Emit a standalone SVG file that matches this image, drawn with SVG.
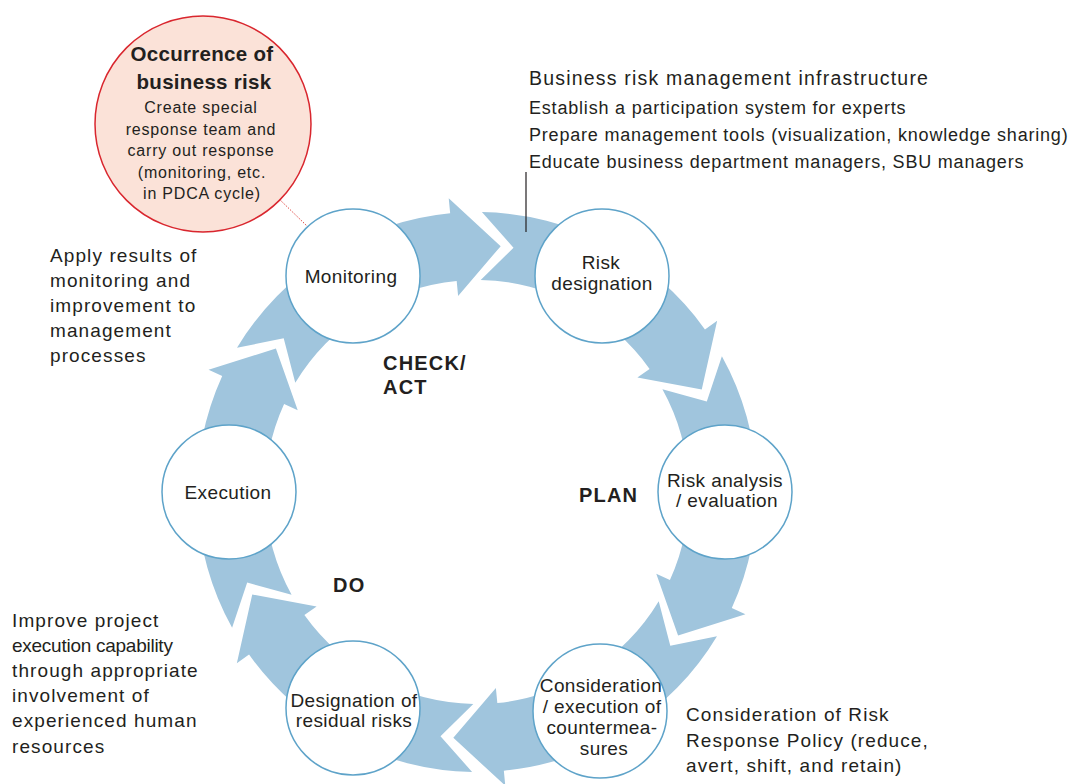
<svg xmlns="http://www.w3.org/2000/svg" xmlns:xlink="http://www.w3.org/1999/xlink" width="1077" height="784" viewBox="0 0 1077 784">
<style>
text{font-family:"Liberation Sans","DejaVu Sans",sans-serif;fill:#231f20;}
.n{stroke:#5ea3c9;stroke-width:1.5;fill:#fff;}
.nt{font-size:19px;text-anchor:middle;letter-spacing:0.4px;}
.lbl{font-size:18px;letter-spacing:0.8px;}
.lb2{font-size:19px;letter-spacing:1.1px;}
.ph{font-size:20px;font-weight:bold;letter-spacing:1.2px;}
.st{font-size:16px;text-anchor:middle;letter-spacing:0.8px;}
.ring{fill:#a0c5dd;}
</style>
<defs>
<path id="arr" class="ring" d="M481.89,212.04 A280,280 0 0 1 704.95,329.40 L717.16,320.69 L701.76,389.57 L637.38,377.60 L649.59,368.89 A212,212 0 0 0 480.70,280.03 L513.51,247.71 Z"/>
</defs>
<g id="connectors">
<use xlink:href="#arr"/>
<use xlink:href="#arr" transform="rotate(60 477 492)"/>
<use xlink:href="#arr" transform="rotate(120 477 492)"/>
<use xlink:href="#arr" transform="rotate(180 477 492)"/>
<use xlink:href="#arr" transform="rotate(240 477 492)"/>
<use xlink:href="#arr" transform="rotate(300 477 492)"/>
<line x1="275" y1="195" x2="308" y2="227" stroke="#e0453f" stroke-width="1" stroke-dasharray="1.5 1.5"/>
<line x1="526" y1="172" x2="526" y2="232" stroke="#231f20" stroke-width="1.2"/>
</g>
<g id="occurrence">
<circle cx="203" cy="124" r="108" fill="#fbe2d8" stroke="#d9262e" stroke-width="1.5"/>
<text x="202" y="61" font-size="20.5" font-weight="bold" text-anchor="middle" letter-spacing="0.3">Occurrence of</text>
<text x="204" y="89" font-size="20.5" font-weight="bold" text-anchor="middle" letter-spacing="0.3">business risk</text>
<text class="st" x="201" y="113">Create special</text>
<text class="st" x="201" y="135">response team and</text>
<text class="st" x="201" y="156">carry out response</text>
<text class="st" x="202" y="178">(monitoring, etc.</text>
<text class="st" x="202" y="199">in PDCA cycle)</text>
</g>
<g id="monitoring">
<circle class="n" cx="353" cy="276" r="67"/>
<text class="nt" x="351" y="283" font-size="20" letter-spacing="1">Monitoring</text>
</g>
<g id="risk-designation">
<circle class="n" cx="602" cy="276" r="67"/>
<text class="nt" x="601" y="269">Risk</text>
<text class="nt" x="602" y="290">designation</text>
</g>
<g id="risk-analysis">
<circle class="n" cx="725" cy="492" r="67"/>
<text class="nt" x="725" y="487">Risk analysis</text>
<text class="nt" x="727" y="507">/ evaluation</text>
</g>
<g id="consideration">
<circle class="n" cx="600" cy="711" r="67"/>
<text class="nt" x="601" y="692" font-size="18">Consideration</text>
<text class="nt" x="602" y="713" font-size="18">/ execution of</text>
<text class="nt" x="602" y="734" font-size="18">countermea-</text>
<text class="nt" x="604" y="755" font-size="18">sures</text>
</g>
<g id="residual-risks">
<circle class="n" cx="353" cy="708" r="67"/>
<text class="nt" x="354" y="707">Designation of</text>
<text class="nt" x="354" y="727">residual risks</text>
</g>
<g id="execution">
<circle class="n" cx="229" cy="492" r="67"/>
<text class="nt" x="228" y="499" font-size="20" letter-spacing="0.8">Execution</text>
</g>
<g id="phase-labels">
<text class="ph" x="383" y="370">CHECK/</text>
<text class="ph" x="383" y="394">ACT</text>
<text class="ph" x="579" y="502">PLAN</text>
<text class="ph" x="333" y="592">DO</text>
</g>
<g id="notes">
<text x="529" y="85" font-size="19.5" letter-spacing="1.2">Business risk management infrastructure</text>
<text class="lbl" x="529" y="114">Establish a participation system for experts</text>
<text class="lbl" x="529" y="141">Prepare management tools (visualization, knowledge sharing)</text>
<text class="lbl" x="529" y="168">Educate business department managers, SBU managers</text>
<text class="lb2" x="50" y="262">Apply results of</text>
<text class="lb2" x="50" y="287">monitoring and</text>
<text class="lb2" x="50" y="312">improvement to</text>
<text class="lb2" x="50" y="337">management</text>
<text class="lb2" x="50" y="362">processes</text>
<text class="lb2" x="12" y="627">Improve project</text>
<text class="lb2" x="12" y="652" textLength="162" lengthAdjust="spacing">execution capability</text>
<text class="lb2" x="12" y="677">through appropriate</text>
<text class="lb2" x="12" y="702">involvement of</text>
<text class="lb2" x="12" y="727">experienced human</text>
<text class="lb2" x="12" y="753">resources</text>
<text class="lb2" x="686" y="721">Consideration of Risk</text>
<text class="lb2" x="686" y="747">Response Policy (reduce,</text>
<text class="lb2" x="686" y="772">avert, shift, and retain)</text>
</g>
</svg>
